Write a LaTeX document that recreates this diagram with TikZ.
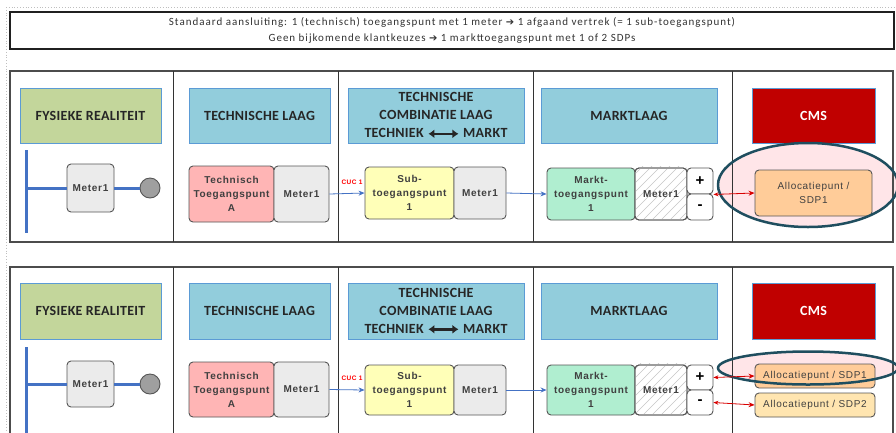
\documentclass[tikz,border=0pt]{standalone}
\usepackage{fontspec}
\setmainfont{Carlito}
\newfontfamily\boxf[LetterSpace=7]{Liberation Sans}
\newfontfamily\banf[LetterSpace=9]{Carlito}
\newfontfamily\hdf[LetterSpace=2]{Carlito}
\newfontfamily\djv{DejaVu Sans}
\usetikzlibrary{arrows.meta,shapes.geometric}
\definecolor{hdblue}{HTML}{5B9BD5}
\definecolor{fysgreen}{HTML}{C3D69B}
\definecolor{techblue}{HTML}{92CDDC}
\definecolor{cmsred}{HTML}{C00000}
\definecolor{linkblue}{HTML}{4472C4}
\definecolor{tapink}{HTML}{FFB5B5}
\definecolor{meterg}{HTML}{EBEBEB}
\definecolor{subyel}{HTML}{FFFFB8}
\definecolor{marktgr}{HTML}{B0EED0}
\definecolor{allocor}{HTML}{FFCC99}
\definecolor{sdptwo}{HTML}{FFE5B0}
\definecolor{ellpink}{HTML}{FFD5DA}
\definecolor{elldark}{HTML}{1F4E5F}
\definecolor{boxedge}{HTML}{555555}
\tikzset{
  hdr/.style={draw=hdblue, line width=1pt, inner sep=0pt, align=center,
    font=\hdf\bfseries\fontsize{14}{18}\selectfont, text=black!85},
  elem/.style={draw=boxedge, line width=0.9pt, rounded corners=4pt, inner sep=0pt,
    align=center, font=\boxf\bfseries\fontsize{10}{14}\selectfont, text=black!75},
  pm/.style={elem, font=\boxf\bfseries\fontsize{15}{15}\selectfont, text=black, minimum width=26pt},
  bluelink/.style={draw=linkblue, line width=0.8pt, -{Stealth[length=6pt,width=5pt]}},
  redlink/.style={draw=red!85!black, line width=0.8pt, {Stealth[length=5pt,width=4pt]}-{Stealth[length=6pt,width=5pt]}},
  cuc/.style={text=red, font=\boxf\bfseries\fontsize{6.5}{6.5}\selectfont, inner sep=0pt},
  bus/.style={draw=linkblue, line width=3pt},
  panel/.style={draw=gray!60!black, line width=1.5pt},
  divider/.style={draw=black!80, line width=1pt},
  ellfill/.style={ellipse, draw=none, fill=ellpink, fill opacity=0.6, inner sep=0pt},
  ellline/.style={ellipse, draw=elldark, line width=2.5pt, fill=none, inner sep=0pt},
  hatch/.style={draw=gray!45, line width=0.6pt},
}
\begin{document}
\begin{tikzpicture}[x=1pt,y=-1pt]
\useasboundingbox (0,0) rectangle (896,432);
\fill[white] (0,0) rectangle (896,432);
% dotted page guide
\draw[gray!50, line width=0.8pt, dotted] (6,7) -- (896,7);
\draw[gray!50, line width=0.8pt, dotted] (6,7) -- (6,432);
% banner
\node[draw=gray!25!black, line width=1.3pt, minimum width=884pt, minimum height=37pt, inner sep=0pt,
  align=center, font=\banf\fontsize{11}{16}\selectfont, text=black!80] (banner) at (452,30.5)
  {Standaard aansluiting: 1 (technisch) toegangspunt met 1 meter {\djv\bfseries\fontsize{10}{10}\selectfont ➔} 1 afgaand vertrek (= 1 sub-toegangspunt)\\
   Geen bijkomende klantkeuzes {\djv\bfseries\fontsize{10}{10}\selectfont ➔} 1 markttoegangspunt met 1 of 2 SDPs};
% ================= upper panel =================
\node[ellfill, minimum width=180pt, minimum height=84pt] (ellAf) at (808,185) {};
\draw[panel] (10,71) rectangle (893,242);
\foreach \xx in {173,338,533,732} \draw[divider] (\xx,71) -- (\xx,242);
\node[hdr, fill=fysgreen, minimum width=141pt, minimum height=55pt] (fysA) at (90.5,115.5) {FYSIEKE REALITEIT};
\node[hdr, fill=techblue, minimum width=141pt, minimum height=55pt] (techA) at (259.5,115.5) {TECHNISCHE LAAG};
\node[hdr, fill=techblue, minimum width=176pt, minimum height=55pt] (combA) at (436,115.5)
  {TECHNISCHE\\COMBINATIE LAAG\\TECHNIEK \tikz[baseline=-0.6ex,x=1pt,y=1pt]\draw[line width=2.6pt,{Latex[length=6pt,width=9pt]}-{Latex[length=6pt,width=9pt]}] (0,0)--(30,0); MARKT};
\node[hdr, fill=techblue, minimum width=176pt, minimum height=55pt] (marktA) at (629,115.5) {MARKTLAAG};
\node[hdr, fill=cmsred, text=white, minimum width=123pt, minimum height=55pt] (cmsA) at (813.5,115.5) {CMS};
% physical
\node[elem, fill=meterg, minimum width=47pt, minimum height=48pt] (pmA) at (90.5,188) {Meter1};
\node[draw=boxedge, line width=0.9pt, fill=gray!75, circle, minimum size=20pt, inner sep=0pt] (circA) at (150,188) {};
\coordinate (busTopA) at (26,150);
\coordinate (busBotA) at (26,233);
\coordinate (busMidA) at (26,188);
\draw[bus] (busTopA) -- (busBotA);
\draw[bus] (busMidA) -- (pmA.west);
\draw[bus] (pmA.east) -- (circA.west);
% technical
\node[elem, fill=tapink, minimum width=85pt, minimum height=56pt] (taA) at (231.5,194) {Technisch\\Toegangspunt\\A};
\node[elem, fill=meterg, minimum width=55pt, minimum height=56pt] (tmA) at (301.5,194) {Meter1};
% combination
\node[elem, fill=subyel, minimum width=89pt, minimum height=52pt] (subA) at (409.5,193) {Sub-\\toegangspunt\\1};
\node[elem, fill=meterg, minimum width=52pt, minimum height=52pt] (cmA) at (480,193) {Meter1};
% market
\node[elem, fill=marktgr, minimum width=88pt, minimum height=52pt] (mkA) at (591,194) {Markt-\\toegangspunt\\1};
\node[elem, fill=white, minimum width=52pt, minimum height=52pt] (hmA) at (661,194) {};
\begin{scope}
\clip ([shift={(1pt,-1pt)}]hmA.south west) rectangle ([shift={(-1pt,1pt)}]hmA.north east);
\foreach \k in {0,9,...,110} \draw[hatch] ([xshift=\k pt - 55pt]hmA.south west) -- ++(60,-60);
\end{scope}
\node[elem, minimum width=52pt, minimum height=52pt, fill=none] (hmAt) at (661,194) {Meter1};
\node[pm, fill=white, minimum height=26pt] (plusA) at (700,181) {+};
\node[pm, fill=white, minimum height=26pt] (minA) at (700,207) {-};
% CMS
\node[elem, fill=allocor, minimum width=117pt, minimum height=46pt, font=\boxf\fontsize{10}{14}\selectfont] (alA) at (813.5,193) {Allocatiepunt /\\SDP1};
\node[ellline, minimum width=180pt, minimum height=84pt] (ellA) at (808,185) {};
% links
\draw[bluelink] (tmA.east) -- (subA.west);
\node[cuc] (cucA) at (352,182) {CUC 1};
\draw[bluelink] (cmA.east) -- (mkA.west);
\draw[redlink] (plusA.south east) -- (alA.west);
% ================= lower panel =================
\node[ellfill, minimum width=180pt, minimum height=33pt] (ellBf) at (808,368) {};
\draw[panel] (10,434) -- (10,267) -- (893,267) -- (893,434);
\foreach \xx in {173,338,533,732} \draw[divider] (\xx,267) -- (\xx,434);
\node[hdr, fill=fysgreen, minimum width=141pt, minimum height=56pt] (fysB) at (90.5,311) {FYSIEKE REALITEIT};
\node[hdr, fill=techblue, minimum width=141pt, minimum height=56pt] (techB) at (259.5,311) {TECHNISCHE LAAG};
\node[hdr, fill=techblue, minimum width=176pt, minimum height=56pt] (combB) at (436,311)
  {TECHNISCHE\\COMBINATIE LAAG\\TECHNIEK \tikz[baseline=-0.6ex,x=1pt,y=1pt]\draw[line width=2.6pt,{Latex[length=6pt,width=9pt]}-{Latex[length=6pt,width=9pt]}] (0,0)--(30,0); MARKT};
\node[hdr, fill=techblue, minimum width=176pt, minimum height=56pt] (marktB) at (629,311) {MARKTLAAG};
\node[hdr, fill=cmsred, text=white, minimum width=123pt, minimum height=56pt] (cmsB) at (813.5,311) {CMS};
% physical
\node[elem, fill=meterg, minimum width=47pt, minimum height=46pt] (pmB) at (90.5,384) {Meter1};
\node[draw=boxedge, line width=0.9pt, fill=gray!75, circle, minimum size=20pt, inner sep=0pt] (circB) at (150,384) {};
\coordinate (busTopB) at (26,347);
\coordinate (busBotB) at (26,434);
\coordinate (busMidB) at (26,384);
\draw[bus] (busTopB) -- (busBotB);
\draw[bus] (busMidB) -- (pmB.west);
\draw[bus] (pmB.east) -- (circB.west);
% technical
\node[elem, fill=tapink, minimum width=85pt, minimum height=55pt] (taB) at (231.5,389.5) {Technisch\\Toegangspunt\\A};
\node[elem, fill=meterg, minimum width=55pt, minimum height=55pt] (tmB) at (301.5,389.5) {Meter1};
% combination
\node[elem, fill=subyel, minimum width=89pt, minimum height=50pt] (subB) at (409.5,390) {Sub-\\toegangspunt\\1};
\node[elem, fill=meterg, minimum width=52pt, minimum height=50pt] (cmB) at (480,390) {Meter1};
% market
\node[elem, fill=marktgr, minimum width=88pt, minimum height=50pt] (mkB) at (591,390) {Markt-\\toegangspunt\\1};
\node[elem, fill=white, minimum width=52pt, minimum height=50pt] (hmB) at (661,390) {};
\begin{scope}
\clip ([shift={(1pt,-1pt)}]hmB.south west) rectangle ([shift={(-1pt,1pt)}]hmB.north east);
\foreach \k in {0,9,...,110} \draw[hatch] ([xshift=\k pt - 55pt]hmB.south west) -- ++(60,-60);
\end{scope}
\node[elem, minimum width=52pt, minimum height=50pt, fill=none] (hmBt) at (661,390) {Meter1};
\node[pm, fill=white, minimum height=25pt] (plusB) at (700,377.5) {+};
\node[pm, fill=white, minimum height=25pt] (minB) at (700,402.5) {-};
% CMS
\node[elem, fill=allocor, minimum width=120pt, minimum height=24pt, font=\boxf\fontsize{10}{11}\selectfont] (sdp1B) at (815,376) {Allocatiepunt / SDP1};
\node[elem, fill=sdptwo, minimum width=120pt, minimum height=24pt, font=\boxf\fontsize{10}{11}\selectfont] (sdp2B) at (815,405) {Allocatiepunt / SDP2};
\node[ellline, minimum width=180pt, minimum height=33pt] (ellB) at (808,368) {};
% links
\draw[bluelink] (tmB.east) -- (subB.west);
\node[cuc] (cucB) at (352,378) {CUC 1};
\draw[bluelink] (cmB.east) -- (mkB.west);
\draw[redlink] (plusB.east) -- (sdp1B.west);
\draw[redlink] (minB.east) -- (sdp2B.west);
\end{tikzpicture}
\end{document}
